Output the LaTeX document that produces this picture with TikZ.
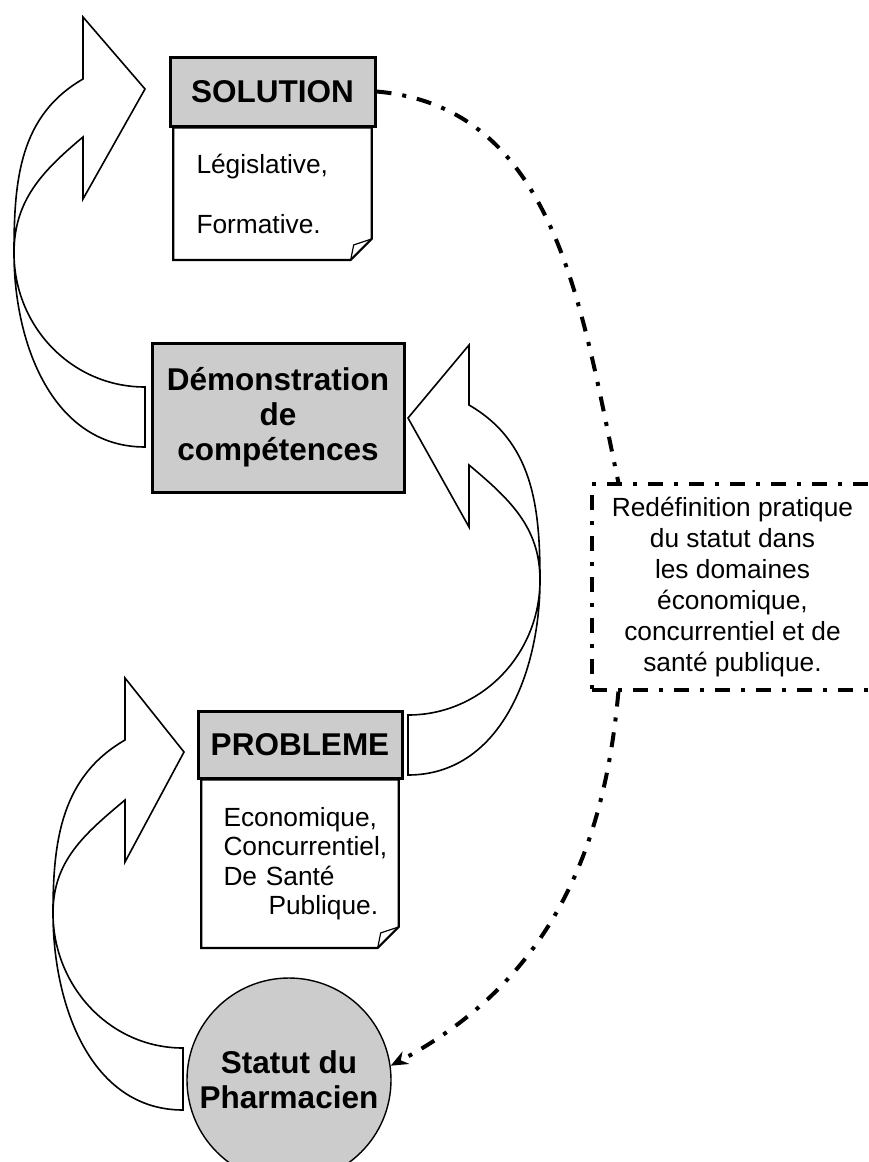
\documentclass[tikz,border=0pt]{standalone}
\usepackage{fontspec}
\setmainfont{Liberation Sans}
\usetikzlibrary{arrows.meta,arrows}
\usetikzlibrary{positioning}
\hyphenpenalty=10000

\tikzset{
  headbox/.style={rectangle,draw,line width=3pt,fill=black!20,inner sep=0pt,align=center,
    font=\fontsize{31.5}{35}\selectfont\bfseries},
  notebox/.style={rectangle,inner sep=0pt,align=left,font=\fontsize{26.3}{29.5}\selectfont},
  blockarrow/.style={draw,line width=1.6pt,fill=white},
  dotline/.style={line width=4pt,dash pattern=on 15pt off 11pt on 4pt off 11pt},
}

\begin{document}
\begin{tikzpicture}[x=1pt,y=1pt]
        \useasboundingbox (0,0) rectangle (869,-1162);

        % curved block arrows
        \draw[blockarrow] (83,-79) -- (83,-17) -- (145,-89) -- (83,-199) -- (83,-137)
            to[out=220,in=90] (14,-253) to[out=-90,in=180] (145,-387) -- (145,-447)
            to[out=180,in=-90] (14,-253) to[out=90,in=210] (83,-79) -- cycle;
        \draw[blockarrow] (469,-405) -- (469,-345) -- (408,-418) -- (469,-527) -- (469,-465)
            to[out=-40,in=90] (540,-580) to[out=-90,in=0] (408,-715) -- (408,-775)
            to[out=0,in=-90] (540,-580) to[out=90,in=-30] (469,-405) -- cycle;
        \draw[blockarrow] (125,-740) -- (125,-678) -- (184,-752) -- (125,-862) -- (125,-800)
            to[out=220,in=90] (53,-913) to[out=-90,in=180] (183,-1048) -- (183,-1110)
            to[out=180,in=-90] (53,-913) to[out=90,in=210] (125,-740) -- cycle;

        \begin{scope}[every node/.style={headbox}]
            \node (sol) at (272.5,-91.5) [minimum width=205pt,minimum height=69pt] {SOLUTION};
            \node (demo) at (278,-417.5) [minimum width=252pt,minimum height=149pt] {D\'emonstration\\de\\comp\'etences};
            \node (pb) at (300,-744.5) [minimum width=204pt,minimum height=67pt] {PROBLEME};
            \node[circle,line width=1.4pt,minimum size=204pt] (stat) at (289,-1080) {Statut du\\Pharmacien};
        \end{scope}

        \begin{scope}[every node/.style={notebox}]
            \node (solnote) [below=0pt of sol,minimum width=198pt,minimum height=132pt,text width=152pt]
                {L\'egislative,\\[31pt]Formative.};
            \node (pbnote) [below=0pt of pb,minimum width=197pt,minimum height=168pt,text width=153pt]
                {Economique,\\Concurrentiel,\\De Sant\'e\\\hspace*{45pt}Publique.};
        \end{scope}

        % folded corners
        \foreach \n in {solnote,pbnote} {
            \draw[line width=2.2pt] (\n.north west) -- (\n.north east) -- ([yshift=21pt]\n.south east)
                -- ([xshift=-21pt]\n.south east) -- (\n.south west) -- cycle;
            \draw[line width=1.2pt] ([yshift=21pt]\n.south east) -- ([xshift=-18pt,yshift=15pt]\n.south east)
                -- ([xshift=-21pt]\n.south east);
        }

        \node[draw,dotline,line width=3.2pt,fill=white,minimum width=281pt,minimum height=206pt,align=center,
            font=\fontsize{26.3}{31}\selectfont] (rem) at (732.5,-587)
            {Red\'efinition pratique\\du statut dans\\les domaines\\\'economique,\\concurrentiel et de\\sant\'e publique.};
        \coordinate (ntop) at ([xshift=28pt]rem.north west);
        \coordinate (nbot) at ([xshift=28pt]rem.south west);

        \begin{scope}[>={Stealth[length=17pt,width=14pt]}]
            \path [dotline,draw] (sol.east) to[out=-5,in=102] (ntop);
            \path [dotline,draw,->] (nbot) to[out=-95,in=28] (stat.8);
        \end{scope}

    \end{tikzpicture}
\end{document}
